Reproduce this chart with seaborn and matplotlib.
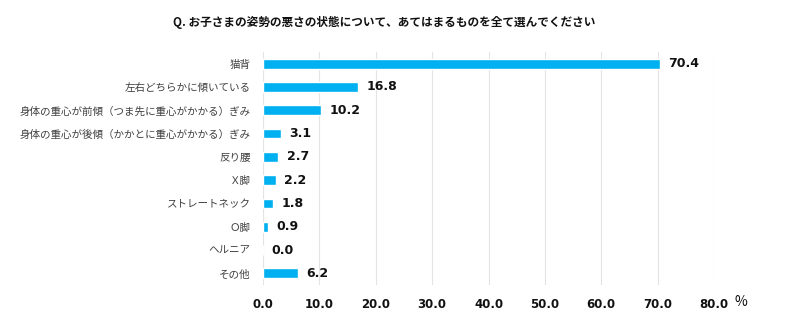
import matplotlib
matplotlib.use("Agg")
import matplotlib.pyplot as plt
import seaborn as sns
import pandas as pd

categories = ["猫背", "左右どちらかに傾いている", "身体の重心が前傾（つま先に重心がかかる）ぎみ",
              "身体の重心が後傾（かかとに重心がかかる）ぎみ", "反り腰", "Ｘ脚", "ストレートネック",
              "Ｏ脚", "ヘルニア", "その他"]
values = [70.4, 16.8, 10.2, 3.1, 2.7, 2.2, 1.8, 0.9, 0.0, 6.2]
xticks = [0, 10, 20, 30, 40, 50, 60, 70, 80]
title = "Q. お子さまの姿勢の悪さの状態について、あてはまるものを全て選んでください"

sns.set_theme(style="white")
plt.rcParams['font.family'] = ['Noto Sans CJK JP', 'DejaVu Sans']

df = pd.DataFrame({"cat": categories, "val": values})

fig = plt.figure(figsize=(7.95, 3.25), dpi=100)
ax = fig.add_axes([0.331, 0.123, 0.567, 0.717])
sns.barplot(data=df, x="val", y="cat", color="#00B0F0", saturation=1, width=0.42, ax=ax)

ax.set_xlim(0, 80)
ax.set_ylim(9.5, -0.5)
ax.set_xticks(xticks)
ax.set_xticklabels([f"{t:.1f}" for t in xticks], fontsize=8.5, fontweight="bold",
                   color="#111111", family="DejaVu Sans")
ax.tick_params(axis="x", length=0, pad=9)
ax.tick_params(axis="y", length=0, pad=9)
for lab in ax.get_yticklabels():
    lab.set_fontsize(7.6)
    lab.set_color("#404040")
ax.set_xlabel("")
ax.set_ylabel("")
ax.grid(axis="x", color="#e3e3e3", linewidth=0.8)
ax.set_axisbelow(True)
for s in ax.spines.values():
    s.set_visible(False)

for i, v in enumerate(values):
    ax.text(v + 1.5, i, f"{v:.1f}", va="center", ha="left", fontsize=9,
            fontweight="bold", color="#111111", family="DejaVu Sans")

fig.text(0.483, 0.93, title, ha="center", va="center", fontsize=8.4, fontweight="bold", color="#111111")
fig.text(0.932, 0.07, "%", ha="center", va="center", fontsize=10, color="#111111")

fig.savefig("out.png", dpi=100)
